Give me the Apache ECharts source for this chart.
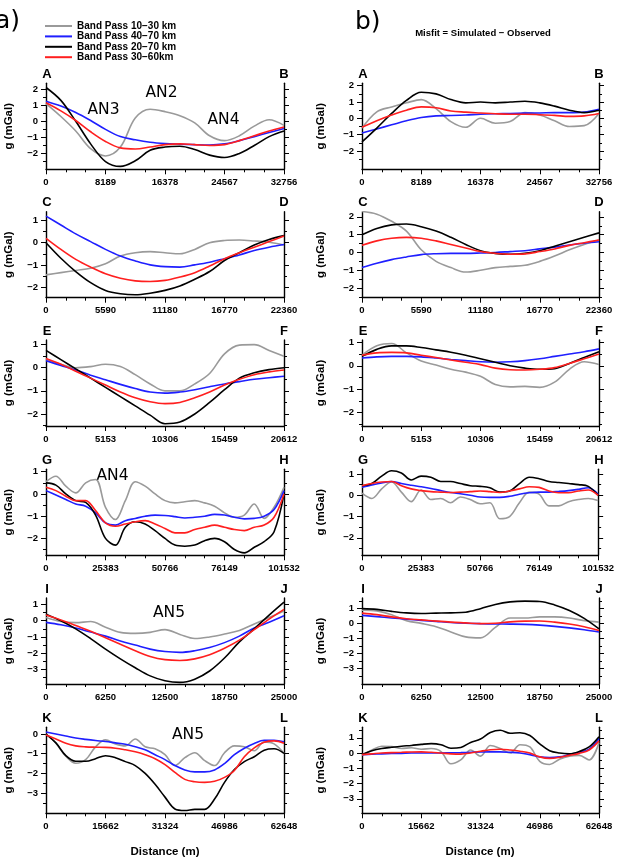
<!DOCTYPE html>
<html><head><meta charset="utf-8">
<script src="https://cdn.jsdelivr.net/npm/echarts@6/dist/echarts.min.js"></script>
<style>html,body{margin:0;padding:0;background:#fff}#c{width:617px;height:864px}</style>
</head><body><div id="c"></div>
<script>
// ---------- names / categories ----------
const seriesNames = ['Band Pass 10\u221230 km','Band Pass 40\u221270 km','Band Pass 20\u221270 km','Band Pass 30\u221260km'];
const panelLetters = [['A','B'],['C','D'],['E','F'],['G','H'],['I','J'],['K','L']];
const distanceMax = [32756, 22360, 20612, 101532, 25000, 62648];

// ---------- y-axis ranges and labelled ticks ----------
const yRange_A_L = [-2.98, 2.36], yTicks_A_L = [-2,-1,0,1,2];
const yRange_A_R = [-3.13, 2.15], yTicks_A_R = [-2,-1,0,1,2];
const yRange_C_L = [-2.48, 1.40], yTicks_C_L = [-2,-1,0,1];
const yRange_C_R = [-2.54, 2.29], yTicks_C_R = [-2,-1,0,1,2];
const yRange_E_L = [-2.52, 1.20], yTicks_E_L = [-2,-1,0,1];
const yRange_E_R = [-2.57, 1.10], yTicks_E_R = [-2,-1,0,1];
const yRange_G_L = [-2.76, 1.11], yTicks_G_L = [-2,-1,0,1];
const yRange_G_R = [-2.82, 1.22], yTicks_G_R = [-2,-1,0,1];
const yRange_I_L = [-3.90, 1.40], yTicks_I_L = [-3,-2,-1,0,1];
const yRange_I_R = [-4.02, 1.71], yTicks_I_R = [-3,-2,-1,0,1];
const yRange_K_L = [-4.02, 0.34], yTicks_K_L = [-3,-2,-1,0];
const yRange_K_R = [-3.95, 1.69], yTicks_K_R = [-3,-2,-1,0,1];

// ---------- series values (mGal), evenly sampled along each profile ----------
const A_L_gray  = [1.1,0.3,-0.6,-1.7,-2.15,-1.6,0.2,0.75,0.6,0.35,-0.1,-0.9,-1.2,-0.9,-0.3,0.1,-0.25];
const A_L_blue  = [1.25,0.95,0.55,0.05,-0.5,-0.95,-1.15,-1.3,-1.38,-1.42,-1.45,-1.47,-1.4,-1.2,-0.95,-0.7,-0.45];
const A_L_black = [2.1,1.3,0.0,-1.4,-2.5,-2.8,-2.45,-1.8,-1.6,-1.55,-1.75,-2.1,-2.25,-2.0,-1.5,-0.95,-0.6];
const A_L_red   = [1.15,0.65,0.05,-0.65,-1.25,-1.65,-1.72,-1.6,-1.45,-1.4,-1.45,-1.5,-1.45,-1.2,-0.9,-0.6,-0.35];

const A_R_gray  = [-0.6,0.4,0.7,0.95,1.15,0.6,-0.2,-0.55,0.0,-0.3,-0.2,0.35,0.2,-0.15,-0.5,-0.45,0.3];
const A_R_blue  = [-0.9,-0.65,-0.4,-0.15,0.05,0.15,0.17,0.2,0.25,0.28,0.3,0.32,0.33,0.35,0.35,0.38,0.55];
const A_R_black = [-1.45,-0.6,0.3,1.1,1.6,1.5,1.15,0.95,1.0,0.95,1.0,1.05,0.95,0.75,0.5,0.35,0.5];
const A_R_red   = [-0.55,-0.15,0.2,0.5,0.7,0.65,0.45,0.38,0.33,0.28,0.25,0.25,0.22,0.18,0.12,0.15,0.3];

const C_L_gray  = [-1.45,-1.35,-1.25,-1.15,-0.95,-0.6,-0.45,-0.4,-0.45,-0.5,-0.3,0.0,0.1,0.12,0.08,0.02,-0.1];
const C_L_blue  = [1.2,0.8,0.4,0.05,-0.3,-0.6,-0.82,-1.0,-1.08,-1.1,-1.0,-0.88,-0.72,-0.55,-0.35,-0.2,-0.08];
const C_L_black = [0.0,-0.7,-1.3,-1.8,-2.15,-2.3,-2.35,-2.28,-2.15,-1.95,-1.65,-1.3,-0.8,-0.45,-0.1,0.15,0.32];
const C_L_red   = [0.2,-0.3,-0.75,-1.1,-1.4,-1.6,-1.72,-1.75,-1.7,-1.55,-1.35,-1.05,-0.72,-0.45,-0.2,0.05,0.3];

const C_R_gray  = [2.3,2.15,1.75,1.2,0.15,-0.5,-0.85,-1.1,-1.0,-0.85,-0.78,-0.72,-0.5,-0.2,0.15,0.45,0.7];
const C_R_blue  = [-0.85,-0.6,-0.4,-0.25,-0.12,-0.07,-0.05,-0.05,-0.03,0.0,0.05,0.1,0.2,0.3,0.42,0.52,0.6];
const C_R_black = [1.0,1.35,1.55,1.6,1.45,1.2,0.85,0.45,0.1,-0.05,-0.1,-0.05,0.1,0.35,0.6,0.85,1.1];
const C_R_red   = [0.4,0.65,0.8,0.85,0.8,0.65,0.45,0.25,0.05,-0.05,-0.1,-0.08,0.05,0.2,0.4,0.55,0.7];

const E_L_gray  = [0.35,0.15,0.0,0.05,0.15,0.05,-0.3,-0.7,-1.0,-1.0,-0.7,-0.25,0.6,0.98,1.0,0.75,0.5];
const E_L_blue  = [0.3,0.1,-0.1,-0.32,-0.52,-0.72,-0.9,-1.05,-1.1,-1.05,-0.95,-0.82,-0.7,-0.6,-0.5,-0.43,-0.37];
const E_L_black = [0.75,0.35,-0.05,-0.45,-0.85,-1.25,-1.65,-2.05,-2.42,-2.35,-2.0,-1.5,-0.95,-0.45,-0.22,-0.08,0.0];
const E_L_red   = [0.4,0.15,-0.15,-0.45,-0.75,-1.05,-1.3,-1.47,-1.55,-1.5,-1.3,-1.05,-0.75,-0.5,-0.3,-0.18,-0.1];

const E_R_gray  = [0.45,0.85,0.95,0.55,0.2,0.03,-0.15,-0.27,-0.45,-0.8,-0.9,-0.88,-0.92,-0.7,-0.15,0.17,0.05];
const E_R_blue  = [0.33,0.38,0.4,0.4,0.38,0.33,0.27,0.22,0.17,0.15,0.17,0.22,0.3,0.4,0.5,0.6,0.72];
const E_R_black = [0.4,0.7,0.85,0.85,0.78,0.68,0.58,0.45,0.3,0.15,0.0,-0.1,-0.15,-0.12,0.1,0.35,0.6];
const E_R_red   = [0.45,0.55,0.57,0.55,0.45,0.35,0.25,0.15,0.05,-0.1,-0.17,-0.18,-0.15,-0.08,0.1,0.3,0.5];

const G_L_gray  = [0.55,0.8,0.35,0.05,0.5,0.65,-0.6,-1.15,-0.3,0.55,0.35,0.0,-0.3,-0.4,-0.35,-0.3,-0.4,-0.55,-0.85,-1.05,-0.95,-0.45,-1.1,-0.6,0.3];
const G_L_blue  = [0.15,-0.05,-0.25,-0.45,-0.55,-0.85,-1.3,-1.4,-1.2,-1.1,-1.0,-0.95,-0.97,-1.02,-1.08,-1.05,-1.0,-0.92,-0.95,-1.05,-1.12,-1.1,-1.0,-0.7,0.15];
const G_L_black = [0.5,0.4,0.0,-0.3,-0.38,-0.95,-2.0,-2.3,-1.5,-1.25,-1.35,-1.65,-2.0,-2.3,-2.35,-2.3,-2.1,-2.0,-2.15,-2.5,-2.65,-2.4,-2.15,-1.7,0.0];
const G_L_red   = [0.3,0.15,-0.1,-0.3,-0.3,-0.75,-1.3,-1.45,-1.35,-1.25,-1.2,-1.35,-1.55,-1.75,-1.75,-1.6,-1.5,-1.4,-1.5,-1.6,-1.65,-1.5,-1.4,-1.05,0.0];

const G_R_gray  = [0.1,-0.15,0.3,0.62,0.15,-0.3,0.25,-0.2,-0.15,-0.35,-0.08,-0.2,-0.4,-0.35,-1.1,-1.0,-0.35,0.15,0.05,-0.5,-0.5,-0.3,-0.2,-0.15,-0.25];
const G_R_blue  = [0.38,0.48,0.58,0.65,0.55,0.47,0.4,0.32,0.22,0.13,0.07,0.0,-0.08,-0.1,-0.1,-0.05,0.05,0.12,0.15,0.15,0.18,0.22,0.28,0.35,0.05];
const G_R_black = [0.45,0.55,0.9,1.15,1.05,0.72,0.9,0.85,0.65,0.65,0.55,0.45,0.42,0.35,0.15,0.2,0.55,0.85,0.78,0.65,0.6,0.55,0.5,0.42,0.0];
const G_R_red   = [0.45,0.55,0.62,0.65,0.45,0.3,0.22,0.17,0.15,0.13,0.15,0.17,0.2,0.17,0.13,0.2,0.3,0.4,0.37,0.2,0.12,0.12,0.2,0.25,0.0];

const I_L_gray  = [0.2,-0.05,-0.12,-0.05,-0.4,-0.72,-0.78,-0.72,-0.55,-0.85,-1.1,-1.0,-0.82,-0.6,-0.2,0.2,0.6];
const I_L_blue  = [-0.1,-0.25,-0.45,-0.7,-0.95,-1.25,-1.5,-1.75,-1.9,-1.95,-1.85,-1.65,-1.35,-0.95,-0.45,-0.1,0.3];
const I_L_black = [0.4,0.0,-0.5,-1.1,-1.75,-2.35,-2.9,-3.4,-3.7,-3.8,-3.6,-3.1,-2.3,-1.3,-0.5,0.35,1.15];
const I_L_red   = [0.35,0.05,-0.3,-0.65,-1.05,-1.45,-1.85,-2.2,-2.4,-2.45,-2.35,-2.1,-1.7,-1.2,-0.55,0.1,0.7];

const I_R_gray  = [0.9,0.85,0.6,0.2,0.02,-0.2,-0.55,-0.88,-0.95,-0.25,0.38,0.38,0.45,0.45,0.38,0.2,0.1];
const I_R_blue  = [0.55,0.47,0.38,0.3,0.22,0.15,0.08,0.03,0.0,-0.02,-0.03,-0.05,-0.1,-0.18,-0.28,-0.4,-0.55];
const I_R_black = [1.0,0.95,0.82,0.72,0.68,0.7,0.72,0.76,1.0,1.28,1.45,1.5,1.48,1.25,0.88,0.35,-0.35];
const I_R_red   = [0.7,0.6,0.45,0.33,0.25,0.17,0.1,0.05,0.0,0.03,0.12,0.17,0.18,0.1,-0.02,-0.2,-0.45];

const K_L_gray  = [0.0,-0.47,-1.12,-1.48,-1.3,-0.65,-0.3,-0.5,-0.6,-0.25,-0.65,-0.75,-1.05,-1.6,-1.2,-0.95,-1.35,-1.6,-0.95,-0.6,-0.65,-0.85,-0.4,-0.5,-0.98];
const K_L_blue  = [0.1,0.0,-0.1,-0.2,-0.27,-0.33,-0.38,-0.45,-0.52,-0.65,-0.8,-1.05,-1.3,-1.6,-1.82,-1.92,-1.92,-1.82,-1.5,-1.05,-0.72,-0.48,-0.32,-0.32,-0.4];
const K_L_black = [0.0,-0.45,-1.1,-1.38,-1.38,-1.25,-1.1,-1.2,-1.4,-1.6,-2.0,-2.55,-3.2,-3.8,-3.88,-3.82,-3.82,-3.3,-2.45,-1.8,-1.4,-1.15,-0.82,-0.75,-0.98];
const K_L_red   = [-0.05,-0.25,-0.47,-0.6,-0.65,-0.67,-0.68,-0.72,-0.8,-0.9,-1.05,-1.25,-1.55,-1.95,-2.3,-2.42,-2.45,-2.4,-2.2,-1.85,-1.15,-0.7,-0.42,-0.35,-0.47];

const K_R_gray  = [-0.15,0.2,0.45,0.42,0.3,0.35,0.25,0.3,0.1,-0.7,-0.45,0.2,-0.2,0.5,0.3,0.0,0.55,0.4,-0.55,-0.75,-0.4,-0.2,-0.15,-0.45,0.7];
const K_R_blue  = [-0.1,-0.08,-0.05,-0.03,-0.02,0.0,0.0,0.0,0.0,0.02,0.03,0.05,0.07,0.08,0.08,0.05,0.0,-0.1,-0.25,-0.3,-0.25,-0.1,0.05,0.25,0.95];
const K_R_black = [-0.1,0.15,0.3,0.38,0.45,0.5,0.57,0.62,0.55,0.32,0.37,0.7,0.92,1.35,1.5,1.3,1.33,1.15,0.6,0.15,0.0,-0.05,0.1,0.4,1.07];
const K_R_red   = [-0.1,-0.05,0.0,0.03,0.05,0.07,0.08,0.05,0.0,-0.05,-0.07,0.0,0.12,0.22,0.25,0.2,0.12,0.0,-0.25,-0.35,-0.28,-0.15,-0.02,0.2,0.8];

// ---------- styles / layout ----------
const lineColors = ['#9a9a9a', '#1f1fff', '#000000', '#ff1f1f'];
const colLeft = [46, 362], colWidth = [238, 237];
const rowBottom = [169.3, 297.7, 426, 555.3, 684, 813.3];
const plotHeight = 86;
const boldFont = 'Liberation Sans, Arial, sans-serif';

const panels = [
  [yRange_A_L, yTicks_A_L, [A_L_gray, A_L_blue, A_L_black, A_L_red]],
  [yRange_A_R, yTicks_A_R, [A_R_gray, A_R_blue, A_R_black, A_R_red]],
  [yRange_C_L, yTicks_C_L, [C_L_gray, C_L_blue, C_L_black, C_L_red]],
  [yRange_C_R, yTicks_C_R, [C_R_gray, C_R_blue, C_R_black, C_R_red]],
  [yRange_E_L, yTicks_E_L, [E_L_gray, E_L_blue, E_L_black, E_L_red]],
  [yRange_E_R, yTicks_E_R, [E_R_gray, E_R_blue, E_R_black, E_R_red]],
  [yRange_G_L, yTicks_G_L, [G_L_gray, G_L_blue, G_L_black, G_L_red]],
  [yRange_G_R, yTicks_G_R, [G_R_gray, G_R_blue, G_R_black, G_R_red]],
  [yRange_I_L, yTicks_I_L, [I_L_gray, I_L_blue, I_L_black, I_L_red]],
  [yRange_I_R, yTicks_I_R, [I_R_gray, I_R_blue, I_R_black, I_R_red]],
  [yRange_K_L, yTicks_K_L, [K_L_gray, K_L_blue, K_L_black, K_L_red]],
  [yRange_K_R, yTicks_K_R, [K_R_gray, K_R_blue, K_R_black, K_R_red]]
];

function fmtNum(v) { return v < 0 ? '\u2212' + Math.abs(v) : String(v); }
function halfTicks(r) {
  const out = [];
  for (let v = Math.ceil(r[0] * 2) / 2; v <= r[1] + 1e-9; v += 0.5) {
    if (Math.abs(v - Math.round(v)) > 1e-6) out.push(v);
  }
  return out;
}

const grids = [], xAxes = [], yAxes = [], series = [], graphics = [];
const axLine = { show: true, onZero: false, lineStyle: { color: '#000', width: 1.4 } };
const labelStyle = { color: '#000', fontFamily: boldFont, fontWeight: 'bold', fontSize: 9.5 };

panels.forEach((p, idx) => {
  const row = Math.floor(idx / 2), col = idx % 2;
  const [yr, yt, vals] = p;
  const M = distanceMax[row];
  const top = rowBottom[row] - plotHeight;
  grids.push({ left: colLeft[col], top: top, width: colWidth[col], height: plotHeight });
  xAxes.push({
    type: 'value', gridIndex: idx, min: 0, max: M, interval: M / 4, position: 'bottom',
    axisLine: axLine, splitLine: { show: false },
    axisTick: { show: true, length: 5, lineStyle: { color: '#000', width: 1 } },
    minorTick: { show: true, splitNumber: 3, length: 3, lineStyle: { color: '#000', width: 1 } },
    axisLabel: Object.assign({ margin: 8, formatter: v => String(Math.round(v)) }, labelStyle)
  });
  const minor = halfTicks(yr);
  const base = { type: 'value', gridIndex: idx, min: yr[0], max: yr[1], splitLine: { show: false } };
  yAxes.push(Object.assign({}, base, {
    position: 'left', axisLine: axLine,
    axisTick: { show: true, length: 5, customValues: yt, lineStyle: { color: '#000', width: 1 } },
    axisLabel: Object.assign({ margin: 8, customValues: yt, formatter: fmtNum }, labelStyle)
  }));
  yAxes.push(Object.assign({}, base, {
    position: 'left', axisLine: { show: false },
    axisTick: { show: true, length: 3, customValues: minor, lineStyle: { color: '#000', width: 1 } },
    axisLabel: { show: false }
  }));
  yAxes.push(Object.assign({}, base, {
    position: 'right', axisLine: axLine,
    axisTick: { show: true, length: 5, customValues: yt, lineStyle: { color: '#000', width: 1 } },
    axisLabel: { show: false }
  }));
  yAxes.push(Object.assign({}, base, {
    position: 'right', axisLine: { show: false },
    axisTick: { show: true, length: 3, customValues: minor, lineStyle: { color: '#000', width: 1 } },
    axisLabel: { show: false }
  }));
  vals.forEach((arr, si) => {
    series.push({
      type: 'line', name: seriesNames[si], xAxisIndex: idx, yAxisIndex: idx * 4,
      data: arr.map((v, i) => [i * M / (arr.length - 1), v]),
      smooth: 0.35, symbol: 'none', showSymbol: false, clip: true,
      lineStyle: { color: lineColors[si], width: 1.6 }, itemStyle: { color: lineColors[si] },
      emphasis: { disabled: true }, z: 2 + si
    });
  });
  const L = colLeft[col], R = colLeft[col] + colWidth[col];
  const ly = top - 9;
  graphics.push({ type: 'text', x: L + 1, y: ly, style: { text: panelLetters[row][0], font: 'bold 13px ' + boldFont, fill: '#000', textAlign: 'center', textVerticalAlign: 'middle', align: 'center', verticalAlign: 'middle' } });
  graphics.push({ type: 'text', x: R, y: ly, style: { text: panelLetters[row][1], font: 'bold 13px ' + boldFont, fill: '#000', textAlign: 'center', textVerticalAlign: 'middle', align: 'center', verticalAlign: 'middle' } });
  graphics.push({ type: 'text', x: col === 0 ? 9 : 321, y: top + plotHeight / 2, rotation: Math.PI / 2,
    style: { text: 'g (mGal)', font: 'bold 11.5px ' + boldFont, fill: '#000', textAlign: 'center', textVerticalAlign: 'middle', align: 'center', verticalAlign: 'middle' } });
});

function txt(text, x, y, font, align) {
  graphics.push({ type: 'text', x: x, y: y, style: { text: text, font: font, fill: '#000', textAlign: align || 'center', textVerticalAlign: 'middle', align: align || 'center', verticalAlign: 'middle' } });
}
const annoFont = '15.5px DejaVu Sans, sans-serif';
txt('AN3', 103.5, 110, annoFont);
txt('AN2', 161.5, 92.5, annoFont);
txt('AN4', 223.5, 120, annoFont);
txt('AN4', 112.5, 475.8, annoFont);
txt('AN5', 169, 613, annoFont);
txt('AN5', 188, 735, annoFont);
txt('a)', -5, 21, '25px DejaVu Sans, sans-serif', 'left');
txt('b)', 355, 22, '25px DejaVu Sans, sans-serif', 'left');
txt('Misfit = Simulated \u2212 Observed', 483, 33.5, 'bold 9.5px ' + boldFont);
txt('Distance (m)', 165, 851.5, 'bold 11.5px ' + boldFont);
txt('Distance (m)', 480, 851.5, 'bold 11.5px ' + boldFont);

const chart = echarts.init(document.getElementById('c'), null, { renderer: 'canvas' });
chart.setOption({
  animation: false,
  backgroundColor: '#fff',
  legend: {
    orient: 'vertical', left: 45, top: 21, padding: 0,
    icon: 'rect', itemWidth: 27, itemHeight: 2, itemGap: 0.4, selectedMode: false,
    data: seriesNames,
    textStyle: { color: '#000', fontFamily: boldFont, fontWeight: 'bold', fontSize: 10, lineHeight: 10 }
  },
  grid: grids, xAxis: xAxes, yAxis: yAxes, series: series,
  graphic: graphics
});
</script></body></html>
